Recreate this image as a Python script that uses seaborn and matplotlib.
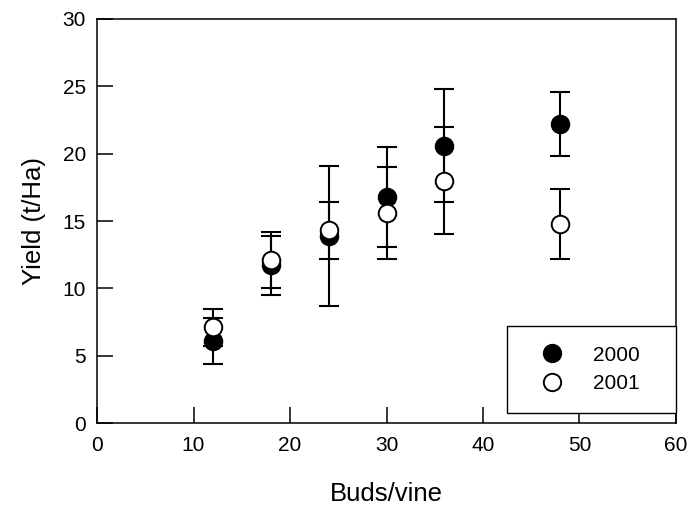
import matplotlib
matplotlib.use("Agg")
import matplotlib.pyplot as plt
import seaborn as sns
import pandas as pd

# Yield per bud load, two seasons
buds = [12, 18, 24, 30, 36, 48]
yield_2000 = [6.1, 11.7, 13.9, 16.8, 20.6, 22.2]
err_2000 = [1.7, 2.2, 5.2, 3.7, 4.2, 2.4]
yield_2001 = [7.1, 12.1, 14.3, 15.6, 18.0, 14.8]
err_2001 = [1.4, 2.1, 2.1, 3.4, 4.0, 2.6]
years = ["2000", "2001"]

sns.set_theme(style="white")
plt.rcParams["font.family"] = ["Liberation Sans", "DejaVu Sans"]

df = pd.DataFrame({
    "Buds/vine": buds * 2,
    "Yield": yield_2000 + yield_2001,
    "err": err_2000 + err_2001,
    "Year": [years[0]] * len(buds) + [years[1]] * len(buds),
})

fig = plt.figure(figsize=(7.0, 5.08), dpi=100)
ax = fig.add_axes([0.1386, 0.1673, 0.8271, 0.7953])

for yr in years:
    sub = df[df["Year"] == yr]
    ax.errorbar(sub["Buds/vine"], sub["Yield"], yerr=sub["err"], fmt="none",
                ecolor="black", elinewidth=1.5, capsize=7.2, capthick=1.5, zorder=2)
    sns.scatterplot(data=sub, x="Buds/vine", y="Yield", ax=ax,
                    color="black" if yr == "2000" else "white",
                    edgecolor="black", linewidth=1.4, s=160, zorder=3,
                    label=yr, legend=False)

ax.set_xlim(0, 60)
ax.set_ylim(0, 30)
ax.set_xticks(range(0, 61, 10))
ax.set_yticks(range(0, 31, 5))
ax.tick_params(axis="both", direction="in", length=11.5, width=1.1,
               labelsize=15, colors="black", bottom=True, left=True,
               top=False, right=False)
ax.tick_params(axis="x", pad=9)
ax.tick_params(axis="y", pad=8)
for sp in ax.spines.values():
    sp.set_color("black")
    sp.set_linewidth(1.1)

ax.set_xlabel("Buds/vine", fontsize=18.5, labelpad=20, color="black")
ax.set_ylabel("Yield (t/Ha)", fontsize=18.5, labelpad=12, color="black")

handles = [
    plt.Line2D([], [], marker="o", linestyle="none", markersize=12.5,
               markerfacecolor="black", markeredgecolor="black", markeredgewidth=1.4),
    plt.Line2D([], [], marker="o", linestyle="none", markersize=12.5,
               markerfacecolor="white", markeredgecolor="black", markeredgewidth=1.4),
]
leg = ax.legend(handles, years, loc="lower left",
                bbox_to_anchor=(0.708, 0.025, 0.292, 0.223), mode="expand",
                fontsize=15, labelcolor="black", frameon=True, fancybox=False,
                framealpha=1, borderpad=0.95, labelspacing=0.45,
                handlelength=2.4, handletextpad=0.8, borderaxespad=0)
leg.get_frame().set_edgecolor("black")
leg.get_frame().set_linewidth(1.0)

fig.savefig("out.png", dpi=100)
